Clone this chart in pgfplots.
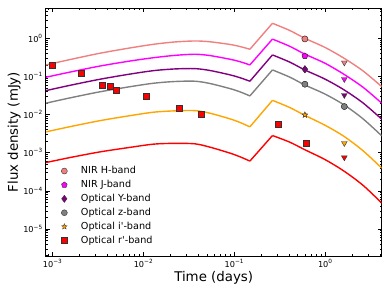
\documentclass[border=0pt]{standalone}
\usepackage{fontspec}
\setmainfont{DejaVu Sans}
\usepackage{pgfplots}
\pgfplotsset{compat=1.18}
\usetikzlibrary{plotmarks}

\definecolor{cH}{HTML}{F08080}
\definecolor{cJ}{HTML}{FF00FF}
\definecolor{cY}{HTML}{800080}
\definecolor{cz}{HTML}{808080}
\definecolor{ci}{HTML}{FFA500}
\definecolor{cr}{HTML}{FF0000}

\pgfdeclareplotmark{fstar}{%
  \pgfpathmoveto{\pgfpointpolar{90}{\pgfplotmarksize}}%
  \pgfpathlineto{\pgfpointpolar{126}{0.42*\pgfplotmarksize}}%
  \pgfpathlineto{\pgfpointpolar{162}{\pgfplotmarksize}}%
  \pgfpathlineto{\pgfpointpolar{198}{0.42*\pgfplotmarksize}}%
  \pgfpathlineto{\pgfpointpolar{234}{\pgfplotmarksize}}%
  \pgfpathlineto{\pgfpointpolar{270}{0.42*\pgfplotmarksize}}%
  \pgfpathlineto{\pgfpointpolar{306}{\pgfplotmarksize}}%
  \pgfpathlineto{\pgfpointpolar{342}{0.42*\pgfplotmarksize}}%
  \pgfpathlineto{\pgfpointpolar{18}{\pgfplotmarksize}}%
  \pgfpathlineto{\pgfpointpolar{54}{0.42*\pgfplotmarksize}}%
  \pgfpathclose
  \pgfusepathqfillstroke
}

\newcommand{\tp}[1]{10\raisebox{0.45em}{\fontsize{5.8}{6}\selectfont #1}}

\begin{document}
\begin{tikzpicture}
\useasboundingbox (-45.7bp,-37bp) rectangle (344.3bp,256bp);
\begin{axis}[
  scale only axis, width=336bp, height=247.7bp,
  xmode=log, ymode=log,
  xmin=8.45e-4, xmax=4.2, ymin=1.96e-6, ymax=6.1,
  xtick={1e-3,1e-2,1e-1,1},
  xticklabels={\tp{−3},\tp{−2},\tp{−1},\tp{0}},
  ytick={1e-5,1e-4,1e-3,1e-2,1e-1,1},
  yticklabels={\tp{−5},\tp{−4},\tp{−3},\tp{−2},\tp{−1},\tp{0}},
  minor xtick={9e-4,2e-3,3e-3,4e-3,5e-3,6e-3,7e-3,8e-3,9e-3,2e-2,3e-2,4e-2,5e-2,6e-2,7e-2,8e-2,9e-2,0.2,0.3,0.4,0.5,0.6,0.7,0.8,0.9,2,3,4},
  minor ytick={2e-6,3e-6,4e-6,5e-6,6e-6,7e-6,8e-6,9e-6,2e-5,3e-5,4e-5,5e-5,6e-5,7e-5,8e-5,9e-5,2e-4,3e-4,4e-4,5e-4,6e-4,7e-4,8e-4,9e-4,2e-3,3e-3,4e-3,5e-3,6e-3,7e-3,8e-3,9e-3,2e-2,3e-2,4e-2,5e-2,6e-2,7e-2,8e-2,9e-2,0.2,0.3,0.4,0.5,0.6,0.7,0.8,0.9,2,3,4,5,6},
  tick align=inside, major tick length=4bp, minor tick length=2bp,
  tick style={black, line width=0.5bp},
  axis line style={line width=0.7bp},
  tick label style={font=\fontsize{8.2}{9}\selectfont},
  xlabel={Time (days)}, ylabel={Flux density (mJy)},
  every axis x label/.style={at={(axis description cs:0.5,-0.09)}, anchor=center, font=\fontsize{13.4}{15}\selectfont},
  every axis y label/.style={at={(axis description cs:-0.094,0.5)}, rotate=90, anchor=center, font=\fontsize{13.4}{15}\selectfont},
  legend style={draw=none, fill=none, at={(axis description cs:0.046,0.362)}, anchor=north west,
    font=\fontsize{9.7}{11}\selectfont, row sep=4.9bp, inner sep=0pt,
    nodes={inner sep=0pt, text height=7.1bp, text depth=1.9bp},
    /tikz/every odd column/.append style={column sep=13.6bp}},
  legend cell align=left,
  legend image code/.code={\draw[#1] plot coordinates {(0bp,0bp)};},
  mkH/.style={only marks, mark=*, mark size=3bp, mark options={fill=cH, draw=black!80, line width=0.4bp}},
  crv/.style={forget plot, no marks, line width=1.4bp},
]
% ---- legend-bearing data points ----
\addplot[mkH] coordinates {(0.6,0.96)};
\addlegendentry{NIR H-band}
\addplot[only marks, mark=pentagon*, mark size=3bp, mark options={fill=cJ, draw=black!80, line width=0.4bp}] coordinates {(0.6,0.344)};
\addlegendentry{NIR J-band}
\addplot[only marks, mark=diamond*, mark size=3.6bp, mark options={fill=cY, draw=black!80, line width=0.4bp}] coordinates {(0.6,0.154)};
\addlegendentry{Optical Y-band}
\addplot[only marks, mark=*, mark size=3bp, mark options={fill=cz, draw=black!80, line width=0.4bp}] coordinates {(0.6,0.0625) (1.63,0.0162)};
\addlegendentry{Optical z-band}
\addplot[only marks, mark=fstar, mark size=3bp, mark options={fill=ci, draw=black!80, line width=0.3bp}] coordinates {(0.6,0.0098)};
\addlegendentry{Optical i\textquotesingle-band}
\addplot[only marks, mark=square*, mark size=3bp, mark options={fill=cr, draw=black!80, line width=0.4bp}] coordinates {
(1.0e-3,0.200) (2.10e-3,0.118) (3.58e-3,0.0589) (4.34e-3,0.0554) (5.02e-3,0.0425)
(1.08e-2,0.0309) (2.49e-2,0.0147) (4.30e-2,0.0104) (0.302,5.61e-3) (0.614,1.74e-3)};
\addlegendentry{Optical r\textquotesingle-band}

% ---- model curves ----
% H
\addplot[crv, smooth, cH] coordinates {
(8.53e-4,0.200) (1.57e-3,0.277) (3.34e-3,0.405) (7.14e-3,0.557) (1.31e-2,0.697) (2.23e-2,0.800)
(3.70e-2,0.849) (5.41e-2,0.809) (8.97e-2,0.689) (0.116,0.607) (0.149,0.515)};
\addplot[crv, cH] coordinates {(0.149,0.515) (0.264,2.47)};
\addplot[crv, smooth, cH] coordinates {
(0.264,2.47) (0.409,1.60) (0.598,1.00) (1.0,0.574) (1.62,0.299) (2.62,0.139) (4.2,0.0541)};
% J
\addplot[crv, smooth, cJ] coordinates {
(8.53e-4,0.0953) (1.57e-3,0.130) (3.34e-3,0.187) (7.14e-3,0.253) (1.31e-2,0.310) (2.23e-2,0.356)
(3.70e-2,0.381) (5.41e-2,0.352) (8.97e-2,0.282) (0.116,0.243) (0.149,0.200)};
\addplot[crv, cJ] coordinates {(0.149,0.200) (0.264,0.951)};
\addplot[crv, smooth, cJ] coordinates {
(0.264,0.951) (0.409,0.615) (0.598,0.385) (1.0,0.221) (1.62,0.113) (2.62,0.0518) (4.2,0.0199)};
% Y
\addplot[crv, smooth, cY] coordinates {
(8.53e-4,0.0425) (1.57e-3,0.0585) (3.34e-3,0.0843) (7.14e-3,0.115) (1.31e-2,0.142) (2.23e-2,0.157)
(3.70e-2,0.160) (5.41e-2,0.143) (8.97e-2,0.110) (0.116,0.0925) (0.149,0.0748)};
\addplot[crv, cY] coordinates {(0.149,0.0748) (0.264,0.366)};
\addplot[crv, smooth, cY] coordinates {
(0.264,0.366) (0.409,0.237) (0.598,0.148) (1.0,0.0849) (1.62,0.0443) (2.62,0.0201) (4.2,0.00759)};
% z
\addplot[crv, smooth, cz] coordinates {
(8.53e-4,0.0199) (1.57e-3,0.0274) (3.34e-3,0.0395) (7.14e-3,0.0537) (1.31e-2,0.0664) (2.23e-2,0.0735)
(3.70e-2,0.0748) (5.41e-2,0.0652) (8.97e-2,0.0480) (0.116,0.0394) (0.149,0.0308)};
\addplot[crv, cz] coordinates {(0.149,0.0308) (0.264,0.148)};
\addplot[crv, smooth, cz] coordinates {
(0.264,0.148) (0.409,0.0957) (0.598,0.0598) (1.0,0.0344) (1.62,0.0179) (2.62,0.00771) (4.2,0.00277)};
% i
\addplot[crv, smooth, ci] coordinates {
(8.53e-4,0.00352) (1.57e-3,0.00482) (3.34e-3,0.00692) (7.14e-3,0.00935) (1.31e-2,0.01156) (2.23e-2,0.0125)
(3.70e-2,0.0127) (5.41e-2,0.01086) (8.97e-2,0.00773) (0.116,0.00621) (0.149,0.00476)};
\addplot[crv, ci] coordinates {(0.149,0.00476) (0.264,0.0236)};
\addplot[crv, smooth, ci] coordinates {
(0.264,0.0236) (0.409,0.01528) (0.598,0.00955) (1.0,0.00524) (1.62,0.00267) (2.62,0.001122) (4.2,0.000395)};
% r
\addplot[crv, smooth, cr] coordinates {
(8.53e-4,5.53e-4) (1.57e-3,7.48e-4) (3.34e-3,1.05e-3) (7.14e-3,1.38e-3) (1.31e-2,1.68e-3) (2.23e-2,1.76e-3)
(3.70e-2,1.71e-3) (5.41e-2,1.40e-3) (8.97e-2,9.77e-4) (0.116,7.82e-4) (0.149,6.03e-4)};
\addplot[crv, cr] coordinates {(0.149,6.03e-4) (0.264,2.82e-3)};
\addplot[crv, smooth, cr] coordinates {
(0.264,2.82e-3) (0.409,1.89e-3) (0.598,1.20e-3) (1.0,6.6e-4) (1.62,3.28e-4) (2.62,1.393e-4) (4.2,4.80e-5)};

% ---- upper limits (downward triangles) ----
\addplot[forget plot, only marks, mark=triangle*, mark size=3.3bp, mark options={rotate=180, fill=cH, draw=black!80, line width=0.4bp}] coordinates {(1.63,0.230)};
\addplot[forget plot, only marks, mark=triangle*, mark size=3.3bp, mark options={rotate=180, fill=cJ, draw=black!80, line width=0.4bp}] coordinates {(1.63,0.0845)};
\addplot[forget plot, only marks, mark=triangle*, mark size=3.3bp, mark options={rotate=180, fill=cY, draw=black!80, line width=0.4bp}] coordinates {(1.63,0.0322)};
\addplot[forget plot, only marks, mark=triangle*, mark size=3.3bp, mark options={rotate=180, fill=ci, draw=black!80, line width=0.4bp}] coordinates {(1.63,1.78e-3)};
\addplot[forget plot, only marks, mark=triangle*, mark size=3.3bp, mark options={rotate=180, fill=cr, draw=black!80, line width=0.4bp}] coordinates {(1.63,7.48e-4)};
% redraw points on top of curves
\addplot[forget plot, mkH] coordinates {(0.6,0.96)};
\addplot[forget plot, only marks, mark=pentagon*, mark size=3bp, mark options={fill=cJ, draw=black!80, line width=0.4bp}] coordinates {(0.6,0.344)};
\addplot[forget plot, only marks, mark=diamond*, mark size=3.6bp, mark options={fill=cY, draw=black!80, line width=0.4bp}] coordinates {(0.6,0.154)};
\addplot[forget plot, only marks, mark=*, mark size=3bp, mark options={fill=cz, draw=black!80, line width=0.4bp}] coordinates {(0.6,0.0625) (1.63,0.0162)};
\addplot[forget plot, only marks, mark=fstar, mark size=3bp, mark options={fill=ci, draw=black!80, line width=0.3bp}] coordinates {(0.6,0.0098)};
\addplot[forget plot, only marks, mark=square*, mark size=3bp, mark options={fill=cr, draw=black!80, line width=0.4bp}] coordinates {
(1.0e-3,0.200) (2.10e-3,0.118) (3.58e-3,0.0589) (4.34e-3,0.0554) (5.02e-3,0.0425)
(1.08e-2,0.0309) (2.49e-2,0.0147) (4.30e-2,0.0104) (0.302,5.61e-3) (0.614,1.74e-3)};
\end{axis}
\end{tikzpicture}
\end{document}
